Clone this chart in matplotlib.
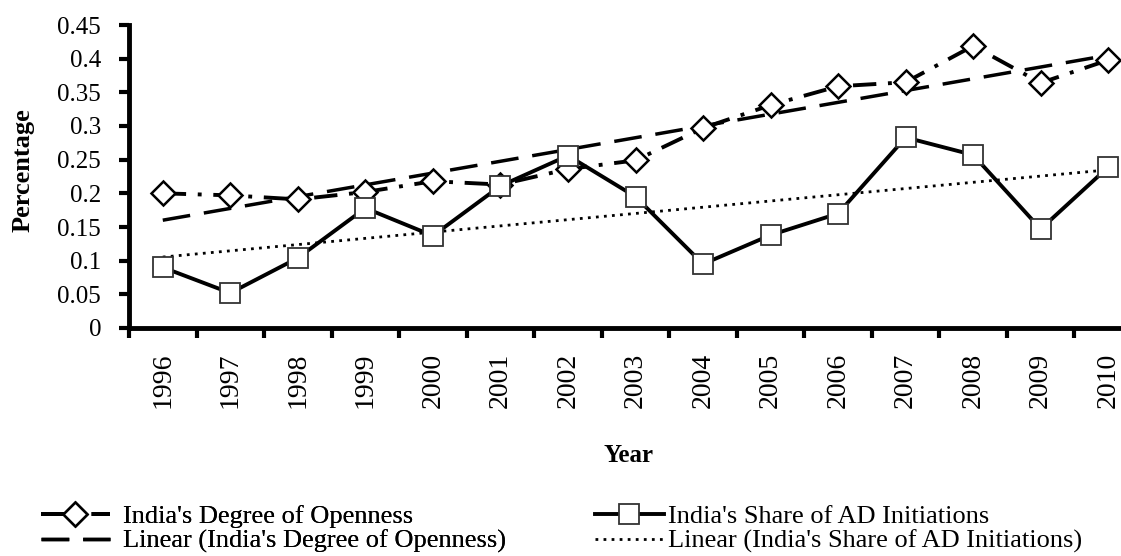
import numpy as np
import matplotlib
matplotlib.use('Agg')
import matplotlib.pyplot as plt

# data
years = ['1996', '1997', '1998', '1999', '2000', '2001', '2002', '2003',
         '2004', '2005', '2006', '2007', '2008', '2009', '2010']
openness = [0.200, 0.197, 0.191, 0.202, 0.218, 0.213, 0.236, 0.249,
            0.297, 0.331, 0.359, 0.365, 0.419, 0.364, 0.398]
ad_share = [0.090, 0.052, 0.104, 0.178, 0.137, 0.211, 0.256, 0.195,
            0.095, 0.138, 0.170, 0.283, 0.257, 0.147, 0.239]
yticks = [0, 0.05, 0.1, 0.15, 0.2, 0.25, 0.3, 0.35, 0.4, 0.45]
ytick_labels = ['0', '0.05', '0.1', '0.15', '0.2', '0.25', '0.3', '0.35', '0.4', '0.45']

plt.rcParams['font.family'] = ['Liberation Serif', 'DejaVu Serif']

x = np.arange(len(years))

# linear trends, like Excel's "Linear (...)" trendlines
p_open = np.polyfit(x, openness, 1)
p_ad = np.polyfit(x, ad_share, 1)

W, H = 1121, 556
fig = plt.figure(figsize=(W / 100, H / 100), dpi=100)
# the category axis runs past the right edge of the picture, as in the original
ax = fig.add_axes([129 / W, 1 - 328 / H, (1142 - 129) / W, (328 - 25) / H])

l_open, = ax.plot(x, openness, color='black', lw=2.8, linestyle=(0, (6, 3, 1, 3)),
                  marker='D', markersize=12, markerfacecolor='white', markeredgecolor='black',
                  markeredgewidth=1.8, zorder=3)
l_ad, = ax.plot(x, ad_share, color='black', lw=2.8, linestyle='-',
                marker='s', markersize=14, markerfacecolor='white', markeredgecolor='#333333',
                markeredgewidth=1.3, zorder=4)
l_open_t, = ax.plot(x, np.polyval(p_open, x), color='black', lw=2.5, linestyle=(0, (8, 4)),
                    zorder=2)
l_ad_t, = ax.plot(x, np.polyval(p_ad, x), color='black', lw=2.0, linestyle=(0, (1, 1.9)),
                  zorder=2)

ax.set_xlim(-0.5, len(years) - 0.5)
ax.set_ylim(0, 0.45)
ax.set_yticks(yticks)
ax.set_yticklabels(ytick_labels, fontsize=18)
ax.set_xticks(x)
ax.set_xticklabels(years, rotation=90, fontsize=20)
ax.set_xticks(np.arange(-0.5, len(years), 1), minor=True)
ax.tick_params(axis='x', which='major', length=0, pad=18)
ax.tick_params(axis='x', which='minor', length=7, width=3, direction='out')
ax.tick_params(axis='y', length=7, width=3, direction='out', pad=13)

for s in ['top', 'right']:
    ax.spines[s].set_visible(False)
for s in ['left', 'bottom']:
    ax.spines[s].set_linewidth(3.5)

ax.set_ylabel('Percentage', fontsize=19, fontweight='bold')
ax.yaxis.set_label_coords((35 - 129) / 1013, (328 - 170) / 303)
fig.text(628 / W, 1 - 455 / H, 'Year', fontsize=18, fontweight='bold',
         ha='center', va='center')

leg_kw = dict(loc='center left', frameon=False, fontsize=19, handlelength=2.6,
              labelspacing=0.05, borderpad=0, borderaxespad=0)
leg1 = fig.legend([l_open, l_open_t],
                  ["India's Degree of Openness", "Linear (India's Degree of Openness)"],
                  bbox_to_anchor=(41 / W, 1 - 529 / H), handletextpad=0.5, **leg_kw)
leg2 = fig.legend([l_ad, l_ad_t],
                  ["India's Share of AD Initiations", "Linear (India's Share of AD Initiations)"],
                  bbox_to_anchor=(595 / W, 1 - 529 / H), handletextpad=0.15, **leg_kw)
fig.add_artist(leg1)

fig.savefig('out.png', dpi=100)
